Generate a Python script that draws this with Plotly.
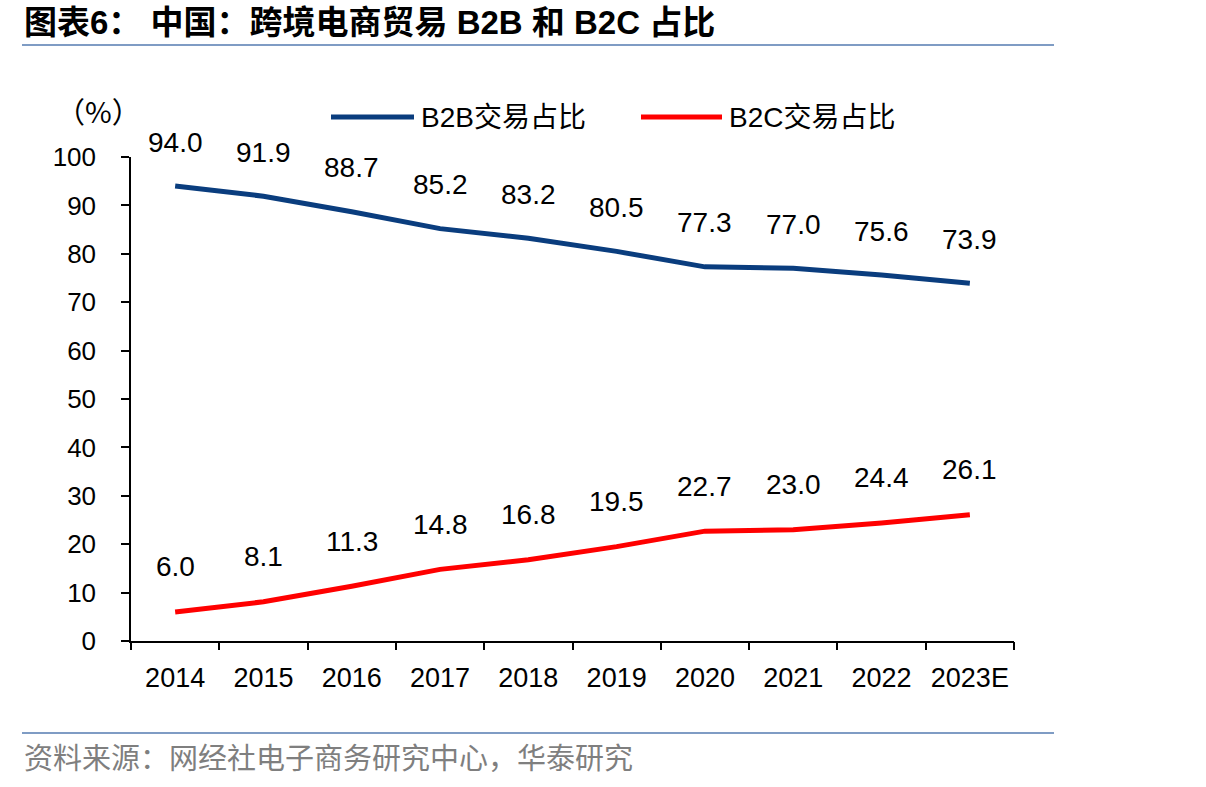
import plotly.graph_objects as go

years = ["2014", "2015", "2016", "2017", "2018", "2019", "2020", "2021", "2022", "2023E"]
b2b = [94.0, 91.9, 88.7, 85.2, 83.2, 80.5, 77.3, 77.0, 75.6, 73.9]
b2c = [6.0, 8.1, 11.3, 14.8, 16.8, 19.5, 22.7, 23.0, 24.4, 26.1]

W, H = 1206, 787
L, R, T, B = 131, 192, 157, 146
pw, ph = W - L - R, H - T - B

def px(x):
    return (x - L) / pw

def py(y):
    return (H - B - y) / ph

NAVY = "#0A3D7E"
RED = "#FF0000"
FONT = "Liberation Sans, Arial, sans-serif"
CJK = "Noto Sans CJK SC"

fig = go.Figure()
idx = list(range(len(years)))
fig.add_trace(go.Scatter(x=idx, y=b2b, mode="lines", name="B2B交易占比",
                         line=dict(color=NAVY, width=5), showlegend=False))
fig.add_trace(go.Scatter(x=idx, y=b2c, mode="lines", name="B2C交易占比",
                         line=dict(color=RED, width=5), showlegend=False))

ann = []
for i, v in zip(idx, b2b):
    ann.append(dict(x=i, y=v, xref="x", yref="y", text=f"{v:.1f}", showarrow=False, yshift=44,
                    font=dict(family=FONT, size=28, color="black")))
for i, v in zip(idx, b2c):
    ann.append(dict(x=i, y=v, xref="x", yref="y", text=f"{v:.1f}", showarrow=False, yshift=45,
                    font=dict(family=FONT, size=28, color="black")))

# title
ann.append(dict(xref="paper", yref="paper", x=px(22), y=py(23), xanchor="left", yanchor="middle",
                text="<b>图表6： 中国：跨境电商贸易 B2B 和 B2C 占比</b>", showarrow=False,
                font=dict(family="Liberation Sans, " + CJK, size=33, color="black")))
# unit
ann.append(dict(xref="paper", yref="paper", x=px(98), y=py(110), xanchor="center", yanchor="middle",
                text="（%）", showarrow=False, font=dict(family=CJK, size=29, color="black")))
# footer
ann.append(dict(xref="paper", yref="paper", x=px(22), y=py(756), xanchor="left", yanchor="middle",
                text="资料来源：网经社电子商务研究中心，华泰研究", showarrow=False,
                font=dict(family=CJK, size=29, color="#7F7F7F")))
# legend text
ann.append(dict(xref="paper", yref="paper", x=px(419), y=py(117), xanchor="left", yanchor="middle",
                text="B2B交易占比", showarrow=False, font=dict(family=FONT + ", " + CJK, size=28, color="black")))
ann.append(dict(xref="paper", yref="paper", x=px(727), y=py(117), xanchor="left", yanchor="middle",
                text="B2C交易占比", showarrow=False, font=dict(family=FONT + ", " + CJK, size=28, color="black")))

shapes = [
    dict(type="line", xref="paper", yref="paper", x0=px(22), x1=px(1054), y0=py(45), y1=py(45),
         line=dict(color="#7F9CC4", width=2)),
    dict(type="line", xref="paper", yref="paper", x0=px(22), x1=px(1054), y0=py(733), y1=py(733),
         line=dict(color="#7F9CC4", width=2)),
    dict(type="line", xref="paper", yref="paper", x0=px(331), x1=px(414), y0=py(117), y1=py(117),
         line=dict(color=NAVY, width=5)),
    dict(type="line", xref="paper", yref="paper", x0=px(641), x1=px(722), y0=py(117), y1=py(117),
         line=dict(color=RED, width=5)),
]

fig.update_layout(
    width=W, height=H,
    margin=dict(l=L, r=R, t=T, b=B),
    paper_bgcolor="white", plot_bgcolor="white",
    annotations=ann, shapes=shapes,
    showlegend=False,
    xaxis=dict(range=[-0.5, 9.5], showgrid=False, showline=True,
               tickmode="array", tickvals=idx, ticktext=years,
               linecolor="black", linewidth=1.5, ticks="", zeroline=False,
               ticklabelstandoff=12,
               tickfont=dict(family=FONT, size=27, color="black")),
    xaxis2=dict(overlaying="x", range=[-0.5, 9.5], showgrid=False, showline=False,
                tickmode="array", tickvals=[i - 0.5 for i in idx] + [len(idx) - 0.5],
                ticktext=[""] * (len(idx) + 1), ticks="outside", ticklen=8,
                tickcolor="black", tickwidth=1.5, side="bottom", anchor="y", zeroline=False),
    yaxis=dict(range=[0, 100], dtick=10, showgrid=False, showline=True,
               linecolor="black", linewidth=1.5, ticks="outside", ticklen=8,
               tickcolor="black", tickwidth=1.5, zeroline=False, ticklabelstandoff=20,
               tickfont=dict(family=FONT, size=26, color="black")),
)
fig.add_trace(go.Scatter(x=[], y=[], xaxis="x2", yaxis="y", showlegend=False))

fig.write_html("out.html")
